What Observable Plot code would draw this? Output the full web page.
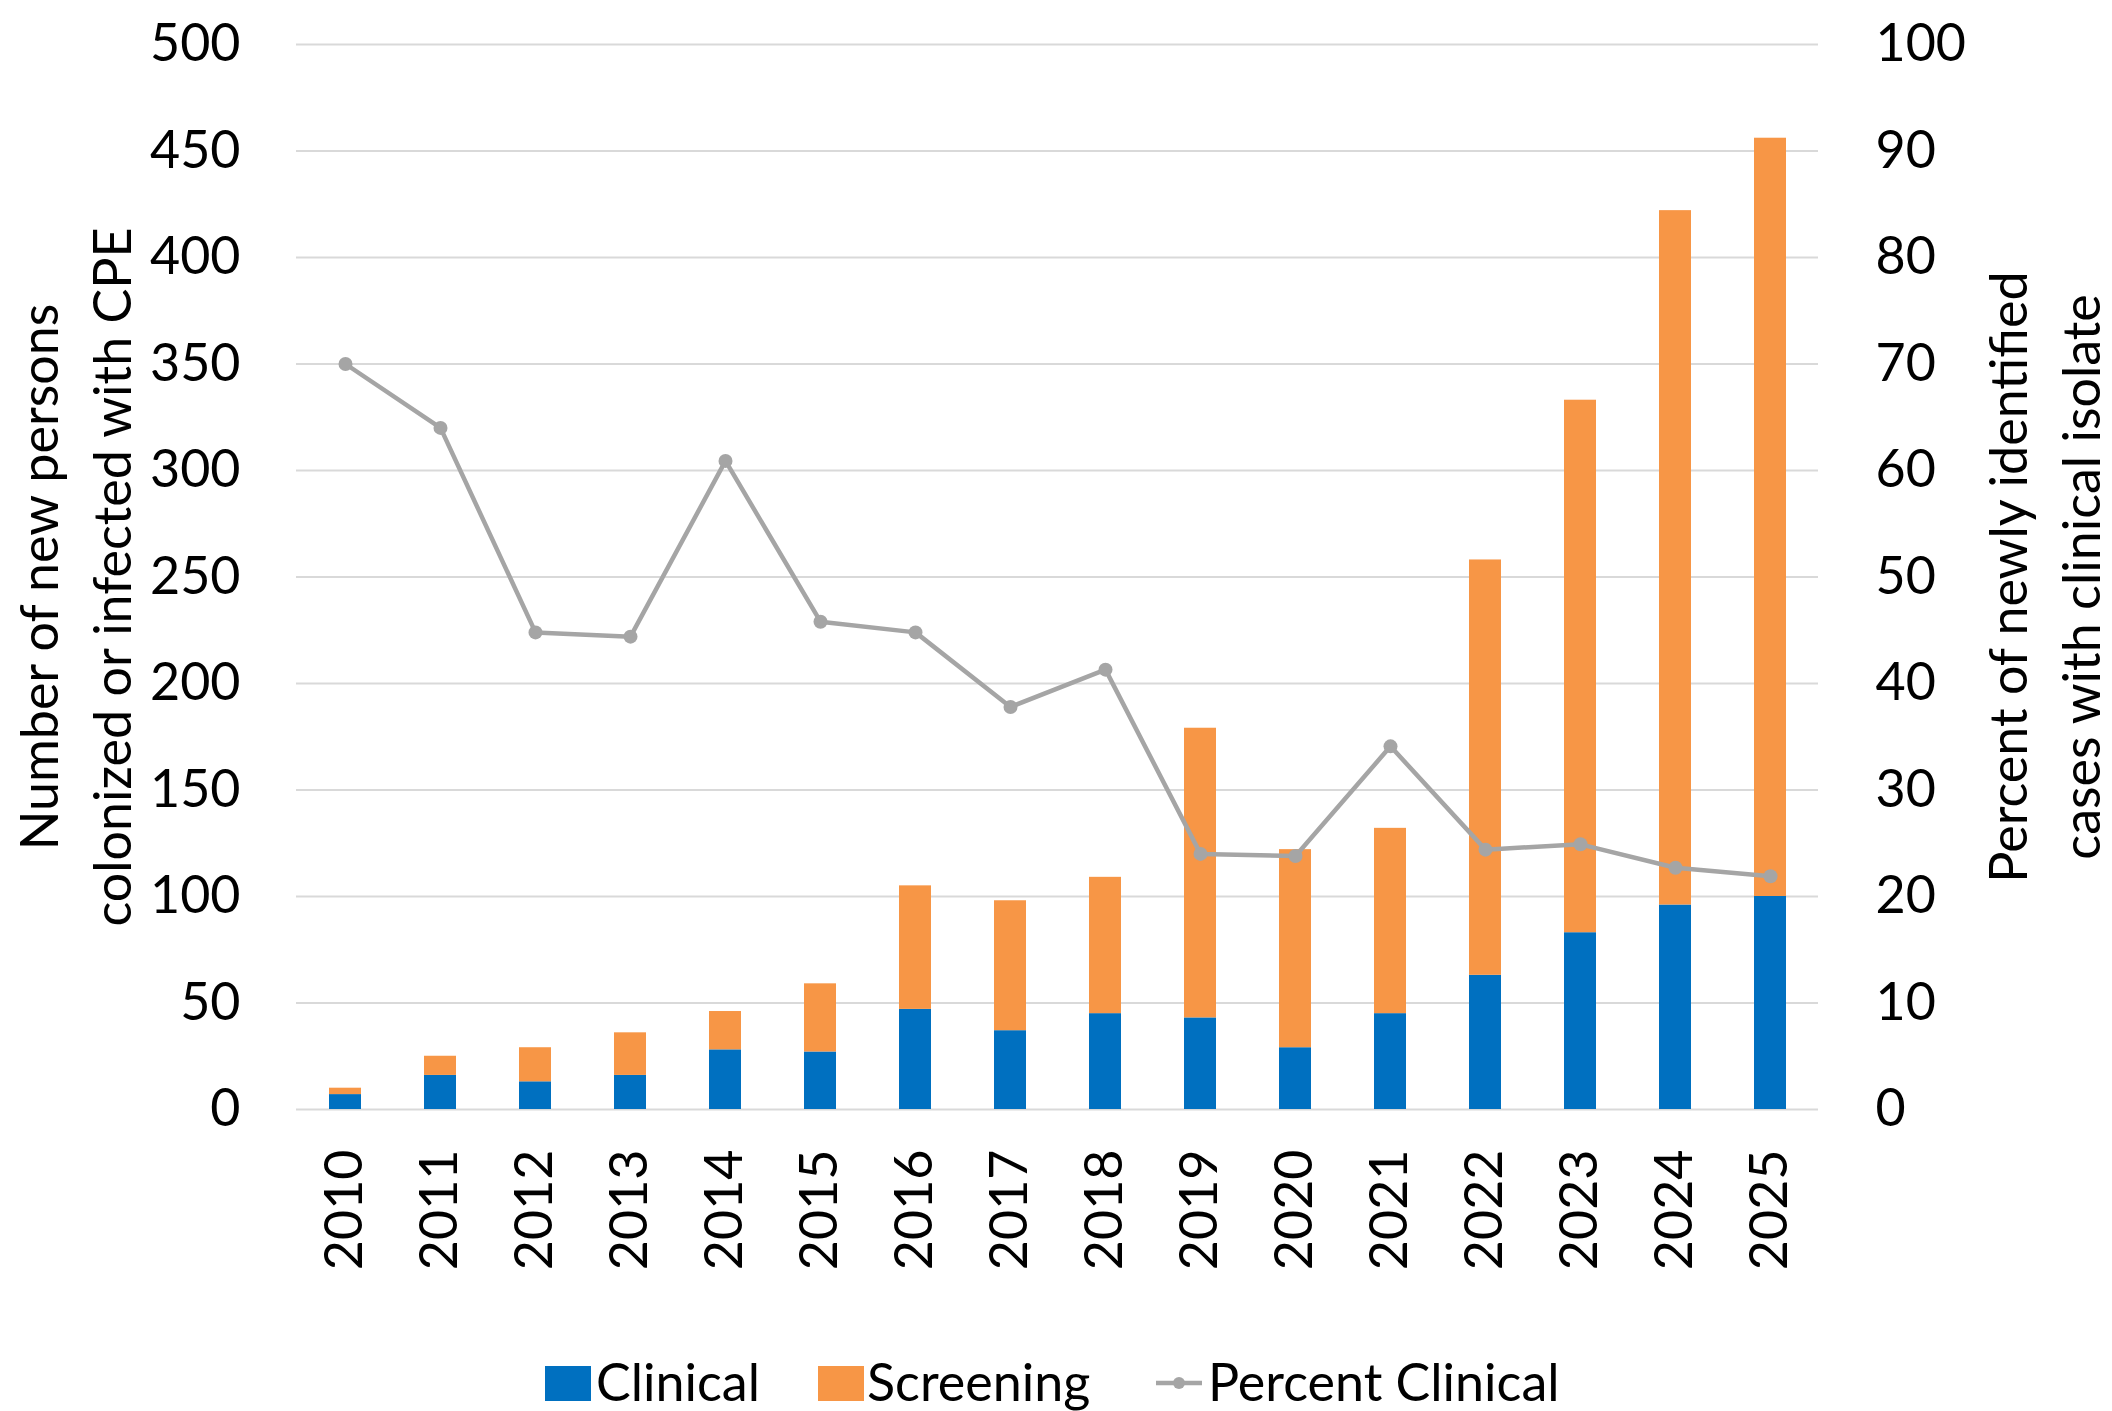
<!DOCTYPE html>
<html>
<head>
<meta charset="utf-8">
<script src="https://cdn.jsdelivr.net/npm/d3@7"></script>
<script src="https://cdn.jsdelivr.net/npm/@observablehq/plot@0.6"></script>
<style>
  html, body { margin: 0; padding: 0; background: #fff; }
  #chart { position: relative; width: 2112px; height: 1411px; font-family: Lato, sans-serif; }
  #chart > svg { position: absolute; left: 0; }
</style>
</head>
<body>
<div id="chart"></div>
<script>
// ---- data ----
const years = ["2010","2011","2012","2013","2014","2015","2016","2017","2018","2019","2020","2021","2022","2023","2024","2025"];
const clinical = [7, 16, 13, 16, 28, 27, 47, 37, 45, 43, 29, 45, 63, 83, 96, 100];
const screening = [3, 9, 16, 20, 18, 32, 58, 61, 64, 136, 93, 87, 195, 250, 326, 356];
const percentClinical = [70, 64, 44.8, 44.4, 60.9, 45.8, 44.8, 37.8, 41.3, 24.0, 23.8, 34.1, 24.4, 24.9, 22.7, 21.9];
const countTicks = [0, 50, 100, 150, 200, 250, 300, 350, 400, 450, 500];
const seriesNames = ["Clinical", "Screening"];
const seriesColors = ["#0070C0", "#F79646"];
const lineName = "Percent Clinical";
const lineColor = "#A5A5A5";
const leftTitle = "Number of new persons\ncolonized or infected with CPE";
const rightTitle = "Percent of newly identified\ncases with clinical isolate";

// percent axis (0-100) is drawn against count axis (0-500)
const pctToCount = 500 / 100;

const barRows = [];
years.forEach((y, i) => {
  barRows.push({year: y, type: "Clinical", value: clinical[i]});
  barRows.push({year: y, type: "Screening", value: screening[i]});
});
const lineRows = years.map((y, i) => ({year: y, pct: percentClinical[i]}));

const FONT = 52;

const plot = Plot.plot({
  width: 2112,
  height: 1300,
  marginLeft: 296,
  marginRight: 294,
  marginTop: 44,
  marginBottom: 191,
  style: {fontFamily: "Lato, sans-serif", fontSize: FONT + "px", color: "#000", background: "#fff"},
  x: {domain: years, paddingInner: 0.667, paddingOuter: 0.333, label: null},
  y: {domain: [0, 500], label: null},
  color: {domain: seriesNames, range: seriesColors},
  marks: [
    Plot.ruleY(countTicks, {stroke: "#d9d9d9", strokeWidth: 2}),
    Plot.barY(barRows, {x: "year", y: "value", fill: "type", order: seriesNames}),
    Plot.line(lineRows, {x: "year", y: d => d.pct * pctToCount, stroke: lineColor, strokeWidth: 4.5, strokeLinejoin: "round"}),
    Plot.dot(lineRows, {x: "year", y: d => d.pct * pctToCount, r: 7, fill: lineColor, stroke: "none"}),
    Plot.axisY({anchor: "left", ticks: countTicks, tickSize: 0, tickPadding: 56, label: null, fontSize: FONT}),
    Plot.axisY({anchor: "right", ticks: countTicks, tickFormat: d => d / pctToCount, tickSize: 0, tickPadding: 57, label: null, fontSize: FONT}),
    Plot.axisX({tickRotate: -90, tickSize: 0, tickPadding: 40, label: null, fontSize: FONT}),
    Plot.text([leftTitle], {text: d => d, frameAnchor: "left", dx: 71 - 296, rotate: -90, textAnchor: "middle", lineAnchor: "middle", lineHeight: 1.4, fontSize: FONT}),
    Plot.text([rightTitle], {text: d => d, frameAnchor: "right", dx: 2040 - 1818, rotate: -90, textAnchor: "middle", lineAnchor: "middle", lineHeight: 1.4, fontSize: FONT})
  ]
});
plot.style.top = "0px";
document.getElementById("chart").appendChild(plot);

// ---- legend (below the plot svg) ----
const legend = d3.create("svg")
  .attr("width", 2112).attr("height", 111)
  .style("top", "1300px")
  .style("font-family", "Lato, sans-serif")
  .style("font-size", FONT + "px");
const items = [
  {kind: "rect", color: seriesColors[0], label: seriesNames[0], x: 545, tx: 596},
  {kind: "rect", color: seriesColors[1], label: seriesNames[1], x: 818, tx: 867},
  {kind: "line", color: lineColor, label: lineName, x: 1156, tx: 1208}
];
items.forEach(it => {
  if (it.kind === "rect") {
    legend.append("rect").attr("x", it.x).attr("y", 66).attr("width", 46).attr("height", 35).attr("fill", it.color);
  } else {
    legend.append("line").attr("x1", it.x).attr("x2", it.x + 46).attr("y1", 83).attr("y2", 83)
      .attr("stroke", it.color).attr("stroke-width", 4.5);
    legend.append("circle").attr("cx", it.x + 23).attr("cy", 83).attr("r", 6).attr("fill", it.color);
  }
  legend.append("text").attr("x", it.tx).attr("y", 101).attr("fill", "#000").text(it.label);
});
document.getElementById("chart").appendChild(legend.node());
</script>
</body>
</html>
